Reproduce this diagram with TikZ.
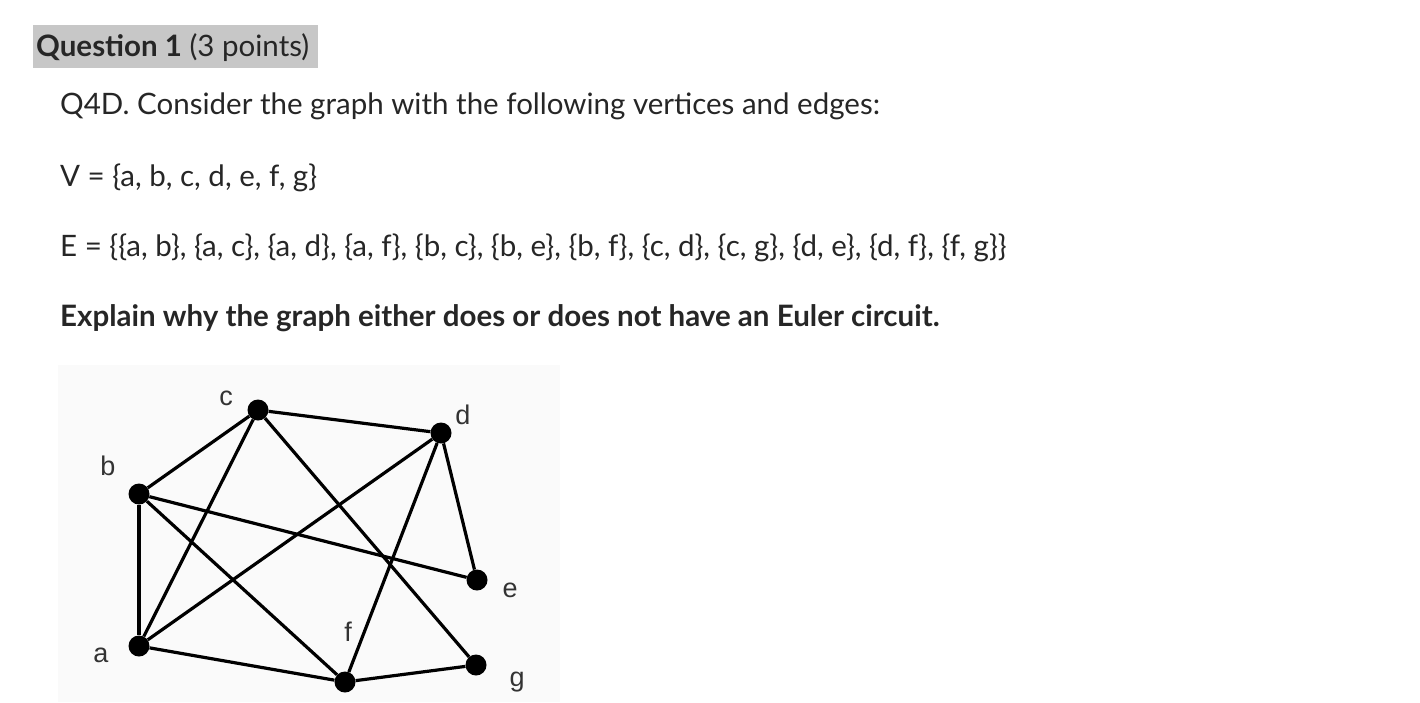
\documentclass[tikz,border=0pt]{standalone}
\usepackage{fontspec}
\setmainfont{Lato}
\newfontfamily\arialf{Liberation Sans}
\begin{document}
\begin{tikzpicture}[x=1pt,y=-1pt,
  txt/.style={anchor=base west,inner sep=0pt,font=\fontsize{29.5}{34}\selectfont,text=black!85},
  vtx/.style={circle,fill=black,inner sep=0pt,minimum size=21pt},
  lbl/.style={font=\arialf\fontsize{27}{30}\selectfont,inner sep=0pt,text=black!80},
  edge/.style={line width=3.2pt}]
\useasboundingbox (0,0) rectangle (1420,702);
\fill[black!22] (33,25) rectangle (318,68);
\node[txt] (h) at (36,56) {\textbf{Question 1} (3 points)};
\node[txt] (l1) at (60,114) {Q4D. Consider the graph with the following vertices and edges:};
\node[txt] (l2) at (60,186) {V = \{a, b, c, d, e, f, g\}};
\node[txt] (l3) at (60,256) {E = \{\{a, b\}, \{a, c\}, \{a, d\}, \{a, f\}, \{b, c\}, \{b, e\}, \{b, f\}, \{c, d\}, \{c, g\}, \{d, e\}, \{d, f\}, \{f, g\}\}};
\node[txt] (l4) at (60,326) {\textbf{Explain why the graph either does or does not have an Euler circuit.}};
\fill[black!2] (58,365) rectangle (560,702);
\node[vtx] (c) at (258,410) {};
\node[vtx] (d) at (441,433) {};
\node[vtx] (b) at (139,494) {};
\node[vtx] (e) at (477,580) {};
\node[vtx] (a) at (139,646) {};
\node[vtx] (f) at (345,682) {};
\node[vtx] (g) at (476,665) {};
\node[lbl] at (226,398) {c};
\node[lbl] at (463,415) {d};
\node[lbl] at (108,466) {b};
\node[lbl] at (510,590) {e};
\node[lbl] at (101,655) {a};
\node[lbl] at (348,632) {f};
\node[lbl] at (517,682) {g};
\foreach \u/\v in {a/b,a/c,a/d,a/f,b/c,b/e,b/f,c/d,c/g,d/e,d/f,f/g}
  \draw[edge] (\u) -- (\v);
\end{tikzpicture}
\end{document}
